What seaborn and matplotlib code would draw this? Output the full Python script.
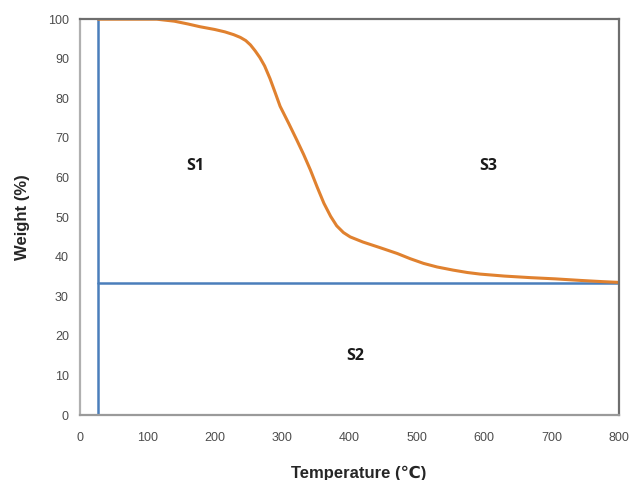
import matplotlib
matplotlib.use("Agg")
import matplotlib.pyplot as plt
import seaborn as sns
import pandas as pd

# TGA curve
temperature = [27, 60, 114, 140, 160, 178, 200, 215, 228, 238, 246, 253, 260, 267, 274,
               282, 290, 297, 310, 322, 332, 342, 352, 362, 372, 381, 391, 401, 420, 445,
               471, 490, 510, 530, 554, 575, 594, 630, 669, 705, 743, 775, 800]
weight = [100, 100, 100, 99.5, 98.8, 98.1, 97.4, 96.8, 96.1, 95.4, 94.6, 93.5, 92.0, 90.3,
          88.2, 85.0, 81.3, 78.0, 73.6, 69.4, 65.8, 61.9, 57.6, 53.5, 50.2, 47.8, 46.1,
          45.0, 43.7, 42.3, 40.8, 39.5, 38.3, 37.4, 36.6, 36.0, 35.6, 35.1, 34.7, 34.4,
          34.0, 33.7, 33.5]

# boundary lines splitting the area into S1 / S2 / S3
start_temp = 27
residue = 33.4
x_max = 800

region_labels = ["S1", "S2", "S3"]
region_x = [171, 409, 606]
region_y = [63, 15, 63]

df = pd.DataFrame({"Temperature": temperature, "Weight": weight})

sns.set_theme(style="white")
plt.rcParams["font.family"] = ["Liberation Sans", "DejaVu Sans"]

fig = plt.figure(figsize=(6.3, 4.8), dpi=100)
ax = fig.add_axes([0.127, 0.1354, 0.8555, 0.8246])

blue = "#4A7EBB"
ax.plot([start_temp, start_temp], [0, 100], color=blue, lw=1.8)
ax.plot([start_temp, x_max], [residue, residue], color=blue, lw=1.8)

sns.lineplot(data=df, x="Temperature", y="Weight", color="#E0812F", lw=2.2, ax=ax)

for lab, tx, ty in zip(region_labels, region_x, region_y):
    ax.text(tx, ty, lab, fontsize=11.5, fontweight="bold", ha="center", va="center",
            color="#1a1a1a", family=["Open Sans", "DejaVu Sans"])

ax.set_xlim(0, 800)
ax.set_ylim(0, 100)
ax.set_xticks(range(0, 801, 100))
ax.set_yticks(range(0, 101, 10))
ax.tick_params(length=0, labelsize=9, labelcolor="#4d4d4d", pad=8)
ax.tick_params(axis="x", pad=12)

ax.set_xlabel("Temperature (℃)", fontsize=12, fontweight="bold")
ax.set_ylabel("Weight (%)", fontsize=12, fontweight="bold")
ax.xaxis.set_label_coords(0.517, -0.128)
ax.yaxis.set_label_coords(-0.093, 0.5)

ax.spines["left"].set_color("#b0b0b0")
ax.spines["bottom"].set_color("#9a9a9a")
ax.spines["top"].set_color("#6e6e6e")
ax.spines["right"].set_color("#6e6e6e")
for s in ax.spines.values():
    s.set_linewidth(1.6)

fig.savefig("out.png", dpi=100)
